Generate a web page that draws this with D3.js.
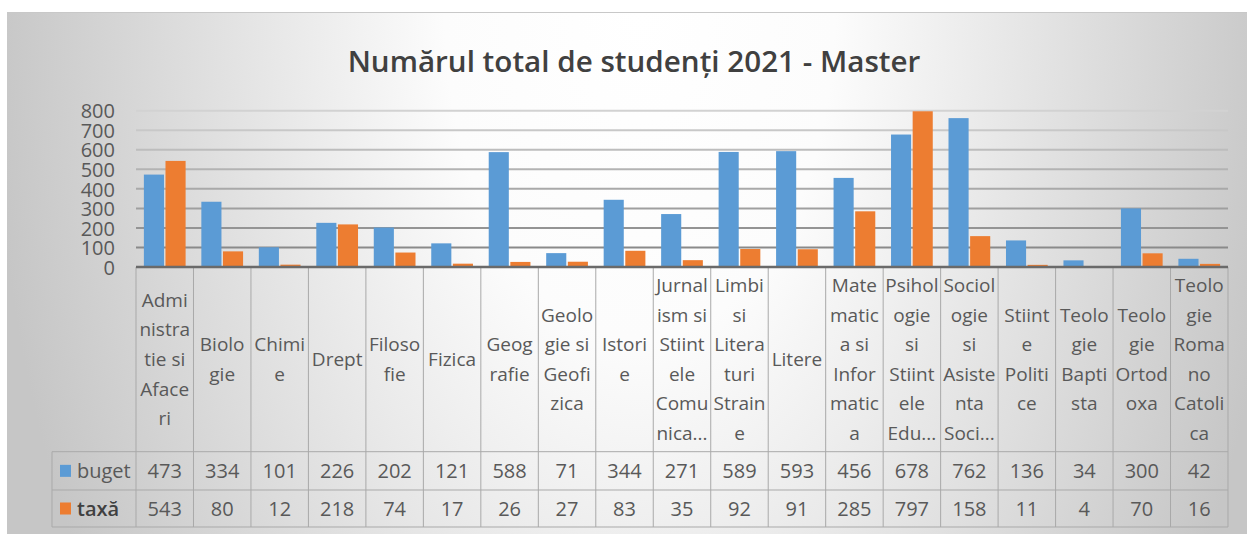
<!DOCTYPE html>
<html>
<head>
<meta charset="utf-8">
<script src="https://cdn.jsdelivr.net/npm/d3@7"></script>
<style>
  body { margin: 0; background: #fff; }
  text { font-family: "Open Sans", "Noto Sans", sans-serif; }
</style>
</head>
<body>
<div id="chart-area"></div>
<script>
// data
const categories = [
    'Administratie si Afaceri', 'Biologie', 'Chimie', 'Drept', 'Filosofie', 'Fizica',
    'Geografie', 'Geologie si Geofizica', 'Istorie', 'Jurnalism si Stiintele Comunicarii',
    'Limbi si Literaturi Straine', 'Litere', 'Matematica si Informatica',
    'Psihologie si Stiintele Educatiei', 'Sociologie si Asistenta Sociala', 'Stiinte Politice',
    'Teologie Baptista', 'Teologie Ortodoxa', 'Teologie Romano Catolica'
];
// wrapped the way Excel shows them in the table header
const labelLines = [
    ['Admi','nistra','tie si','Aface','ri'], ['Biolo','gie'], ['Chimi','e'], ['Drept'],
    ['Filoso','fie'], ['Fizica'], ['Geog','rafie'], ['Geolo','gie si','Geofi','zica'],
    ['Istori','e'], ['Jurnal','ism si','Stiint','ele','Comu','nica...'],
    ['Limbi','si','Litera','turi','Strain','e'], ['Litere'],
    ['Mate','matic','a si','Infor','matic','a'], ['Psihol','ogie','si','Stiint','ele','Edu...'],
    ['Sociol','ogie','si','Asiste','nta','Soci...'], ['Stiint','e','Politi','ce'],
    ['Teolo','gie','Bapti','sta'], ['Teolo','gie','Ortod','oxa'],
    ['Teolo','gie','Roma','no','Catoli','ca']
];
const buget = [473, 334, 101, 226, 202, 121, 588, 71, 344, 271, 589, 593, 456, 678, 762, 136, 34, 300, 42];
const taxa  = [543, 80, 12, 218, 74, 17, 26, 27, 83, 35, 92, 91, 285, 797, 158, 11, 4, 70, 16];
const seriesNames = ['buget', 'taxă'];
const yTicks = [0, 100, 200, 300, 400, 500, 600, 700, 800];

const W = 1247, H = 534;
const PLOT = { LEFT: 136, RIGHT: 1228, TOP: 110.7, ZERO: 267 };
const ROW_HEAD_LEFT = 52;
const HEADER_BOTTOM = 451.7, ROW1_BOTTOM = 490, TABLE_BOTTOM = 527;
const LINE_H = 29.6;
const COLORS = ['#5b9bd5', '#ed7d31'];
const TEXT = '#595959';

const svg = d3.select('#chart-area')
    .append('svg')
    .attr('width', W)
    .attr('height', H)

// background gradient of the chart area (wide ellipse from the top centre)
const defs = svg.append('defs');
const grad = defs.append('radialGradient')
    .attr('id', 'bg')
    .attr('gradientUnits', 'userSpaceOnUse')
    .attr('cx', 0).attr('cy', 0).attr('r', 1)
    .attr('gradientTransform', 'translate(640,10) scale(650,1100)');
grad.append('stop').attr('offset', '0').attr('stop-color', '#ffffff');
grad.append('stop').attr('offset', '0.3').attr('stop-color', '#fcfcfc');
grad.append('stop').attr('offset', '1').attr('stop-color', '#c6c6c6');

svg.append('rect')
    .attr('x', 7).attr('y', 12)
    .attr('width', W - 7).attr('height', H - 12)
    .attr('fill', 'url(#bg)')
svg.append('line')
    .attr('x1', 7).attr('x2', W).attr('y1', 12.5).attr('y2', 12.5)
    .attr('stroke', '#c8c8c8')

// title
const title = svg.append('text')
    .attr('x', 634)
    .attr('y', 72)
    .attr('text-anchor', 'middle')
    .attr('fill', '#404040')
    .attr('font-weight', 600)
    .attr('font-size', 27)
    .text('Numărul total de studenți 2021 - Master')
const tw = title.node().getComputedTextLength();
title.attr('font-size', 27 * 573 / tw);

// scales
const x0 = d3.scaleBand()
    .domain(categories)
    .range([PLOT.LEFT, PLOT.RIGHT])

const gapHalf = x0.bandwidth() * 0.137;
const x1 = d3.scaleBand()
    .domain(seriesNames)
    .range([gapHalf, x0.bandwidth() - gapHalf])
    .paddingInner(0.07)

const y = d3.scaleLinear()
    .domain([0, 800])
    .range([PLOT.ZERO, PLOT.TOP])

// gridlines, lighter towards the top
const gridColor = d3.scaleLinear().domain([100, 800]).range(['#8a8a8a', '#d2d2d2']);
svg.append('g')
    .selectAll('line')
    .data(yTicks.filter(d => d > 0))
    .enter().append('line')
    .attr('x1', PLOT.LEFT).attr('x2', PLOT.RIGHT)
    .attr('y1', d => y(d)).attr('y2', d => y(d))
    .attr('stroke', d => gridColor(d))
    .attr('stroke-width', 2)

// y axis labels
const yAxisGroup = svg.append('g')
    .attr('transform', 'translate(115,0)')
    .call(d3.axisLeft(y).tickValues(yTicks).tickSize(0).tickPadding(0))
yAxisGroup.select('.domain').remove();
yAxisGroup.selectAll('text')
    .attr('font-family', '"Open Sans", sans-serif')
    .attr('font-size', 20)
    .attr('fill', TEXT)
    .attr('dy', '0.36em')

// bars
const rows = categories.map((c, i) => ({ cat: c, values: [buget[i], taxa[i]] }));
const groups = svg.append('g')
    .selectAll('g')
    .data(rows)
    .enter().append('g')
    .attr('transform', d => `translate(${x0(d.cat)},0)`)

groups.selectAll('rect')
    .data(d => d.values.map((v, k) => ({ key: seriesNames[k], v: v, k: k })))
    .enter().append('rect')
    .attr('x', d => x1(d.key))
    .attr('y', d => y(d.v))
    .attr('width', x1.bandwidth())
    .attr('height', d => PLOT.ZERO - y(d.v))
    .attr('fill', d => COLORS[d.k])

// data table
const table = svg.append('g').attr('stroke', '#a9a9a9').attr('stroke-width', 1);
[HEADER_BOTTOM, ROW1_BOTTOM, TABLE_BOTTOM].forEach(yy => {
    table.append('line')
        .attr('x1', ROW_HEAD_LEFT).attr('x2', PLOT.RIGHT)
        .attr('y1', yy).attr('y2', yy)
})
table.append('line')
    .attr('x1', ROW_HEAD_LEFT).attr('x2', ROW_HEAD_LEFT)
    .attr('y1', HEADER_BOTTOM).attr('y2', TABLE_BOTTOM)
table.selectAll('.vdiv')
    .data(categories.map(c => x0(c)).concat([PLOT.RIGHT]))
    .enter().append('line')
    .attr('class', 'vdiv')
    .attr('x1', d => d).attr('x2', d => d)
    .attr('y1', PLOT.ZERO).attr('y2', TABLE_BOTTOM)

// zero line
svg.append('line')
    .attr('x1', PLOT.LEFT).attr('x2', PLOT.RIGHT)
    .attr('y1', PLOT.ZERO).attr('y2', PLOT.ZERO)
    .attr('stroke', '#6a6a6a')
    .attr('stroke-width', 2.5)

// category labels in the table header
const headMid = (PLOT.ZERO + HEADER_BOTTOM) / 2;
const labels = svg.append('g')
    .selectAll('text')
    .data(categories)
    .enter().append('text')
    .attr('text-anchor', 'middle')
    .attr('font-size', 19)
    .attr('fill', TEXT)
labels.each(function (c, i) {
    const lines = labelLines[i];
    const cx = x0(c) + x0.bandwidth() / 2;
    d3.select(this).selectAll('tspan')
        .data(lines)
        .enter().append('tspan')
        .attr('x', cx)
        .attr('y', (d, j) => headMid + (j - (lines.length - 1) / 2) * LINE_H)
        .attr('dy', '0.35em')
        .text(d => d)
})

// value rows
const rowMids = [(HEADER_BOTTOM + ROW1_BOTTOM) / 2, (ROW1_BOTTOM + TABLE_BOTTOM) / 2];
[buget, taxa].forEach((vals, k) => {
    svg.append('g')
        .selectAll('text')
        .data(vals)
        .enter().append('text')
        .attr('x', (d, i) => x0(categories[i]) + x0.bandwidth() / 2)
        .attr('y', rowMids[k])
        .attr('dy', '0.36em')
        .attr('text-anchor', 'middle')
        .attr('font-size', 20)
        .attr('fill', TEXT)
        .text(d => d)

    svg.append('rect')
        .attr('x', 60).attr('y', rowMids[k] - 6)
        .attr('width', 11).attr('height', 12)
        .attr('fill', COLORS[k])
    svg.append('text')
        .attr('x', 77).attr('y', rowMids[k])
        .attr('dy', '0.36em')
        .attr('font-size', 20)
        .attr('font-weight', k === 1 ? 600 : 400)
        .attr('fill', k === 1 ? '#404040' : TEXT)
        .text(seriesNames[k])
})
</script>
</body>
</html>
